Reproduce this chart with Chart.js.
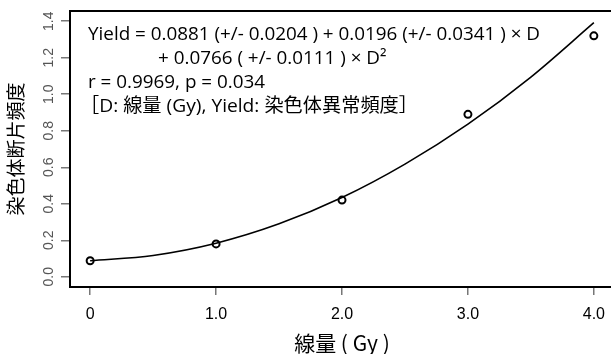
<!DOCTYPE html>
<html>
<head>
<meta charset="utf-8">
<script src="https://cdn.jsdelivr.net/npm/chart.js@4.4.1/dist/chart.umd.min.js"></script>
<style>
  html, body { margin: 0; padding: 0; background: #fff; overflow: hidden; }
  #wrap { width: 620px; height: 354px; }
</style>
</head>
<body>
<div id="wrap"><canvas id="doseChart" width="620" height="354"></canvas></div>
<script>
// =======================================
// DATA
// =======================================
const doses = [0, 1, 2, 3, 4];
const observedYield = [0.088, 0.18, 0.42, 0.89, 1.32];

// fitted curve, every 0.5 Gy
const curveDoses = [0, 0.5, 1, 1.5, 2, 2.5, 3, 3.5, 4];
const curveYield = [0.088, 0.117, 0.184, 0.29, 0.434, 0.617, 0.836, 1.094, 1.392];

const xTicks = [0, 1, 2, 3, 4];
const xTickLabels = ["0", "1.0", "2.0", "3.0", "4.0"];
const yTicks = [0, 0.2, 0.4, 0.6, 0.8, 1.0, 1.2, 1.4];
const yTickLabels = ["0.0", "0.2", "0.4", "0.6", "0.8", "1.0", "1.2", "1.4"];

const noteLines = [
  "Yield = 0.0881 (+/- 0.0204 ) + 0.0196 (+/- 0.0341 ) \u00d7 D",
  "+ 0.0766 ( +/- 0.0111 ) \u00d7 D\u00b2",
  "r = 0.9969, p = 0.034",
  "\uff3bD: 線量 (Gy), Yield: 染色体異常頻度\uff3d",
];

const TEXT_FONT = "'Open Sans', 'Noto Sans CJK JP', sans-serif";

// =======================================
// FRAME, ROTATED Y LABELS, NOTE TEXT
// =======================================
const framePlugin = {
  id: "framePlugin",
  afterDraw(chart) {
    const ctx = chart.ctx;
    const area = chart.chartArea;
    const yScale = chart.scales.y;

    ctx.save();
    // box
    ctx.strokeStyle = "#000";
    ctx.lineWidth = 2;
    ctx.strokeRect(area.left, area.top, area.right - area.left, area.bottom - area.top);

    // y tick labels, turned like R does
    ctx.fillStyle = "#555";
    ctx.font = "14px 'Liberation Sans', Arial, sans-serif";
    ctx.textAlign = "center";
    ctx.textBaseline = "middle";
    yTicks.forEach((v, i) => {
      const py = yScale.getPixelForValue(v);
      ctx.save();
      ctx.translate(49, py);
      ctx.rotate(-Math.PI / 2);
      ctx.fillText(yTickLabels[i], 0, 0);
      ctx.restore();
    });

    // note block: a tall font squeezed sideways so line 1 is as wide as in the figure
    ctx.fillStyle = "#000";
    ctx.textAlign = "left";
    ctx.textBaseline = "middle";
    ctx.font = "19px " + TEXT_FONT;
    const squeeze = 452 / ctx.measureText(noteLines[0]).width;
    // the CJK line keeps its own width
    const cjkSqueeze = 338 / ctx.measureText(noteLines[3]).width;
    const rows = [
      [noteLines[0], 88, 35, squeeze],
      [noteLines[1], 158, 59, squeeze],
      [noteLines[2], 88, 83, squeeze],
      [noteLines[3], 80, 107, cjkSqueeze],
    ];
    rows.forEach(([txt, x, y, sx]) => {
      ctx.save();
      ctx.translate(x, y);
      ctx.scale(sx, 1);
      ctx.fillText(txt, 0, 0);
      ctx.restore();
    });
    ctx.restore();
  },
};

// =======================================
// CHART
// =======================================
function initChart() {
  const canvas = document.getElementById("doseChart");

  new Chart(canvas.getContext("2d"), {
    type: "scatter",
    data: {
      datasets: [
        {
          type: "line",
          data: curveDoses.map((d, i) => ({ x: d, y: curveYield[i] })),
          borderColor: "#000",
          borderWidth: 1.6,
          pointRadius: 0,
          cubicInterpolationMode: "monotone",
          fill: false,
        },
        {
          data: doses.map((d, i) => ({ x: d, y: observedYield[i] })),
          pointStyle: "circle",
          pointRadius: 3.5,
          pointBorderWidth: 2,
          pointBorderColor: "#000",
          pointBackgroundColor: "#fff",
        },
      ],
    },
    options: {
      responsive: false,
      animation: false,
      events: [],
      layout: { padding: { top: 11, right: 6, left: 0, bottom: 0 } },
      plugins: { legend: { display: false }, tooltip: { enabled: false } },
      scales: {
        x: {
          type: "linear",
          min: -0.16,
          max: 4.16,
          afterBuildTicks: (scale) => {
            scale.ticks = xTicks.map((v) => ({ value: v }));
          },
          afterFit: (scale) => {
            scale.height = 67;
          },
          grid: { drawOnChartArea: false, drawTicks: true, tickLength: 8, color: "#777", lineWidth: 1.5 },
          border: { display: false },
          ticks: {
            color: "#000",
            padding: 10,
            maxRotation: 0,
            font: { family: "'Liberation Sans', Arial, sans-serif", size: 16 },
            callback: (v) => xTickLabels[xTicks.indexOf(v)],
          },
          title: {
            display: true,
            text: "線量 ( Gy )",
            color: "#000",
            font: { family: "'Noto Sans CJK JP', sans-serif", size: 21, lineHeight: 1.0 },
            padding: { top: 0, bottom: 0 },
          },
        },
        y: {
          type: "linear",
          min: -0.056,
          max: 1.456,
          afterBuildTicks: (scale) => {
            scale.ticks = yTicks.map((v) => ({ value: v }));
          },
          afterFit: (scale) => {
            scale.width = 70;
          },
          grid: { drawOnChartArea: false, drawTicks: true, tickLength: 9, color: "#777", lineWidth: 1.5 },
          border: { display: false },
          ticks: { display: false },
          title: {
            display: true,
            text: "染色体断片頻度",
            color: "#000",
            font: { family: "'Noto Sans CJK JP', sans-serif", size: 19, lineHeight: 1.2 },
            padding: { top: 4, bottom: 0 },
          },
        },
      },
    },
    plugins: [framePlugin],
  });
}

document.addEventListener("DOMContentLoaded", () => {
  initChart();
});
</script>
</body>
</html>
